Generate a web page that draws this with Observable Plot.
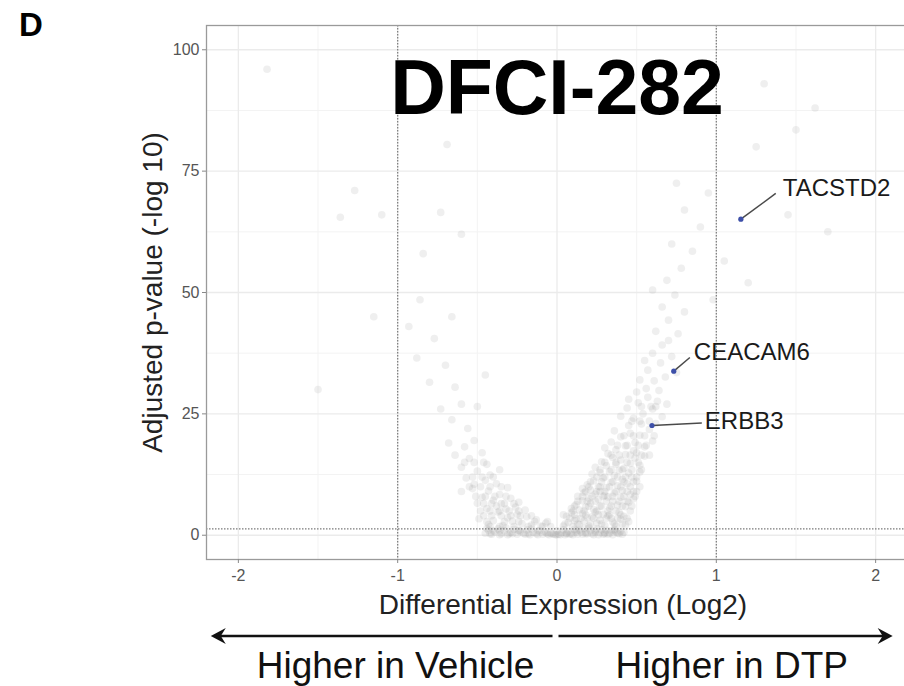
<!DOCTYPE html>
<html><head><meta charset="utf-8">
<script src="https://cdn.jsdelivr.net/npm/d3@7"></script>
<script src="https://cdn.jsdelivr.net/npm/@observablehq/plot@0.6"></script>
<style>
body{margin:0;background:#fff;font-family:"Liberation Sans",Arial,Helvetica,sans-serif;}
#fig{position:relative;width:904px;height:686px;overflow:hidden;background:#fff;}
#fig > svg{position:absolute;left:0;top:0;}
</style></head><body><div id="fig"></div>
<script>
// ---- text ----
const panelLetter = "D";
const chartTitle = "DFCI-282";
const xLabel = "Differential Expression (Log2)";
const yLabel = "Adjusted p-value (-log 10)";
const directionLabels = ["Higher in Vehicle", "Higher in DTP"];

// ---- axes ----
const xDomain = [-2.2, 2.2];
const yDomain = [-5, 105];
const xTicks = [-2, -1, 0, 1, 2];
const yTicks = [0, 25, 50, 75, 100];
const xMinor = [-1.5, -0.5, 0.5, 1.5];
const yMinor = [12.5, 37.5, 62.5, 87.5];

// ---- thresholds ----
const foldChangeCutoffs = [-1, 1];
const pValueCutoff = [1.30103]; // -log10(0.05)

// ---- all genes: [log2 fold change, -log10 adjusted p] ----
const genePoints = [
  // dense band near zero
  [-0.45,0.4],[-0.43,1.0],[-0.41,0.2],[-0.39,0.7],[-0.37,1.3],[-0.35,0.3],[-0.33,0.9],[-0.31,0.1],[-0.29,0.6],[-0.27,1.2],
  [-0.25,0.2],[-0.23,0.8],[-0.21,0.4],[-0.19,1.1],[-0.17,0.1],[-0.15,0.6],[-0.13,0.3],[-0.11,0.9],[-0.09,0.2],[-0.07,0.5],
  [-0.05,0.1],[-0.03,0.3],[-0.01,0.1],[0.01,0.2],[0.03,0.5],[0.05,0.1],[0.07,0.8],[0.09,0.3],[0.11,1.2],[0.13,0.2],
  [0.15,0.7],[0.17,1.4],[0.19,0.3],[0.21,0.9],[0.23,0.1],[0.25,1.3],[0.27,0.5],[0.29,0.2],[0.31,1.0],[0.33,0.4],
  [0.35,0.1],[0.37,0.7],[0.39,0.3],[0.41,0.2],
  [-0.44,1.4],[-0.40,0.9],[-0.36,0.1],[-0.32,1.5],[-0.28,0.3],[-0.24,1.0],[-0.20,0.2],[-0.16,1.3],[-0.12,0.1],[-0.08,0.8],
  [-0.04,0.4],[0.00,0.1],[0.04,1.1],[0.08,0.2],[0.12,0.6],[0.16,0.2],[0.20,1.5],[0.24,0.6],[0.28,1.1],[0.32,0.2],
  [0.36,1.2],[0.40,0.8],[0.02,0.1],[-0.02,0.2],[0.06,0.4],[0.10,0.1],[0.14,1.0],[0.18,0.6],[0.22,0.3],[0.26,0.1],
  [0.30,0.5],[0.34,0.9],[0.38,0.4],
  [-0.42,0.3],[-0.36,0.9],[-0.30,0.3],[-0.24,0.9],[-0.18,0.3],[-0.12,0.9],[-0.06,0.3],[0.00,0.9],[0.06,0.3],[0.12,0.9],
  [0.18,0.3],[0.24,0.9],[0.30,0.3],[0.36,0.9],[0.42,0.6],
  // right arm (higher in DTP)
  [0.04,1.9],[0.07,2.6],[0.10,1.8],[0.12,3.4],[0.14,2.2],[0.17,2.9],[0.20,1.9],[0.22,3.8],[0.25,2.5],[0.27,3.1],
  [0.30,2.0],[0.32,4.0],[0.35,2.7],[0.37,1.9],[0.40,3.3],[0.43,2.1],[0.06,3.9],[0.09,4.6],[0.11,3.0],[0.16,4.4],
  [0.19,3.6],[0.24,4.8],[0.29,4.3],[0.34,3.5],[0.39,4.7],[0.42,3.9],[0.45,2.8],
  [0.05,2.3],[0.13,2.3],[0.21,2.3],[0.28,2.3],[0.36,2.3],[0.41,2.3],
  [0.08,3.5],[0.15,3.5],[0.23,3.5],[0.31,3.5],[0.38,3.5],[0.44,3.5],
  [0.04,4.2],[0.11,4.2],[0.18,4.2],[0.26,4.2],[0.33,4.2],[0.40,4.2],
  [0.10,5.0],[0.17,5.0],[0.25,5.0],[0.32,5.0],[0.37,5.0],[0.46,5.0],
  [0.09,5.5],[0.12,6.3],[0.14,5.2],[0.16,7.1],[0.18,5.8],[0.21,6.6],[0.23,5.3],[0.26,7.4],[0.28,6.0],[0.30,8.2],
  [0.33,5.6],[0.35,7.0],[0.38,6.2],[0.40,7.8],[0.43,5.9],[0.45,6.8],[0.48,7.5],[0.13,8.0],[0.17,8.8],[0.20,7.6],
  [0.24,8.5],[0.27,9.0],[0.32,7.9],[0.36,8.7],[0.41,9.2],[0.46,8.4],[0.50,9.0],
  [0.11,6.0],[0.20,6.0],[0.27,6.0],[0.34,6.0],[0.41,6.0],[0.47,6.0],
  [0.13,7.0],[0.19,7.0],[0.24,7.0],[0.31,7.0],[0.39,7.0],[0.44,7.0],
  [0.16,8.0],[0.22,8.0],[0.29,8.0],[0.35,8.0],[0.42,8.0],[0.49,8.0],
  [0.18,9.0],[0.25,9.0],[0.30,9.0],[0.37,9.0],[0.44,9.0],[0.48,9.0],
  [0.16,9.6],[0.19,10.4],[0.21,9.3],[0.23,11.2],[0.26,10.0],[0.29,11.8],[0.31,9.8],[0.34,10.9],[0.36,12.3],[0.38,10.2],
  [0.41,11.5],[0.44,10.6],[0.47,12.0],[0.50,11.1],[0.22,12.6],[0.27,12.9],[0.33,13.1],[0.39,13.4],[0.45,12.8],[0.52,13.0],
  [0.20,10.0],[0.27,10.0],[0.33,10.0],[0.40,10.0],[0.46,10.0],[0.52,10.0],
  [0.21,11.0],[0.28,11.0],[0.35,11.0],[0.42,11.0],[0.48,11.0],
  [0.25,12.0],[0.30,12.0],[0.38,12.0],[0.43,12.0],[0.50,12.0],
  [0.24,14.0],[0.28,15.1],[0.31,14.3],[0.35,16.0],[0.37,14.6],[0.40,15.5],[0.43,16.6],[0.46,14.8],[0.49,15.9],[0.52,14.4],
  [0.55,16.3],[0.32,16.8],[0.42,13.8],[0.50,17.0],
  [0.27,13.5],[0.34,13.5],[0.41,13.5],[0.47,13.5],[0.53,13.5],
  [0.30,15.0],[0.37,15.0],[0.44,15.0],[0.51,15.0],
  [0.34,16.5],[0.39,16.5],[0.46,16.5],[0.53,16.5],[0.58,16.5],
  [0.30,18.0],[0.34,19.2],[0.37,17.6],[0.40,20.3],[0.43,18.4],[0.46,21.0],[0.49,19.1],[0.52,20.6],[0.55,18.2],[0.58,21.8],
  [0.36,21.5],[0.45,22.6],[0.53,22.9],[0.60,19.4],[0.48,17.4],[0.62,23.0],
  [0.38,18.5],[0.44,18.5],[0.51,18.5],[0.56,18.5],
  [0.42,20.5],[0.48,20.5],[0.55,20.5],[0.61,20.5],
  [0.47,23.5],[0.52,23.5],[0.58,23.5],
  [0.40,24.5],[0.44,26.2],[0.48,24.1],[0.51,27.3],[0.54,25.0],[0.57,28.4],[0.60,26.0],[0.63,27.6],[0.66,24.4],[0.50,29.5],
  [0.56,30.2],[0.64,29.8],[0.45,28.0],[0.69,27.0],
  [0.53,26.5],[0.59,26.5],[0.62,26.5],
  [0.52,32.0],[0.57,34.0],[0.61,31.8],[0.65,35.5],[0.68,32.6],[0.72,36.8],[0.60,37.5],[0.66,39.2],[0.55,36.0],[0.75,33.5],
  [0.70,40.1],
  [0.62,42.0],[0.70,44.3],[0.76,41.5],[0.66,47.0],[0.74,49.5],[0.80,46.0],[0.69,52.5],[0.78,55.0],[0.60,50.5],[0.85,58.5],
  [0.72,60.0],[0.90,63.5],[0.80,67.0],[0.95,70.5],[0.75,72.5],[1.05,56.5],[0.98,48.5],
  [1.25,80.0],[1.50,83.5],[1.62,88.0],[1.30,93.0],[1.45,66.0],[1.70,62.5],[1.20,52.0],
  // left arm (higher in vehicle)
  [-0.04,1.8],[-0.07,2.5],[-0.10,1.9],[-0.13,3.2],[-0.16,2.1],[-0.19,3.8],[-0.22,2.4],[-0.25,4.3],[-0.28,2.9],[-0.31,3.6],
  [-0.34,2.0],[-0.37,4.8],[-0.40,3.0],[-0.43,2.2],[-0.46,4.0],[-0.20,5.2],[-0.26,5.8],[-0.32,5.4],[-0.38,6.0],[-0.44,5.5],
  [-0.49,3.4],
  [-0.09,1.8],[-0.18,1.8],[-0.27,1.8],[-0.36,1.8],[-0.42,1.8],
  [-0.06,2.8],[-0.14,2.8],[-0.24,2.8],[-0.33,2.8],[-0.44,2.8],
  [-0.16,4.0],[-0.23,4.0],[-0.29,4.0],[-0.35,4.0],[-0.41,4.0],
  [-0.24,5.0],[-0.30,5.0],[-0.36,5.0],[-0.42,5.0],[-0.48,5.0],
  [-0.24,6.8],[-0.29,7.6],[-0.33,6.5],[-0.36,8.4],[-0.40,7.2],[-0.43,9.1],[-0.47,7.8],[-0.50,6.6],[-0.53,9.6],[-0.31,9.8],
  [-0.38,10.6],[-0.45,11.3],[-0.52,10.5],[-0.57,11.8],[-0.42,12.4],[-0.60,9.0],
  [-0.27,6.5],[-0.35,6.5],[-0.41,6.5],[-0.46,6.5],
  [-0.32,8.0],[-0.39,8.0],[-0.45,8.0],[-0.51,8.0],
  [-0.35,10.0],[-0.42,10.0],[-0.48,10.0],[-0.55,10.0],
  [-0.40,12.0],[-0.47,12.0],[-0.53,12.0],
  [-0.36,13.5],[-0.44,14.6],[-0.50,13.2],[-0.55,15.8],[-0.60,14.0],[-0.47,17.0],[-0.58,18.2],[-0.64,16.5],[-0.52,19.5],[-0.68,19.0],
  [-0.46,15.0],[-0.52,15.0],[-0.58,15.0],
  [-0.56,22.0],[-0.66,23.8],[-0.60,27.0],[-0.73,26.0],[-0.64,30.5],[-0.80,31.5],[-0.70,35.0],[-0.88,36.5],[-0.77,40.5],[-0.93,43.0],
  [-0.66,45.0],[-0.86,48.5],[-0.50,26.5],[-0.45,33.0],
  [-0.73,66.5],[-0.69,80.5],[-0.60,62.0],[-1.10,66.0],[-1.27,71.0],[-1.36,65.5],[-1.82,96.0],[-0.84,58.0],[-1.15,45.0],[-1.50,30.0]
];

// ---- highlighted genes ----
const highlightGenes = ["TACSTD2", "CEACAM6", "ERBB3"];
const highlightLog2FC = [1.154, 0.733, 0.596];
const highlightNegLog10P = [65.1, 33.8, 22.6];
// repelled label anchor (data units) and leader-line ends
const labelLog2FC = [1.417, 0.859, 0.928];
const labelNegLog10P = [71.4, 37.7, 23.5];
const leaderEndLog2FC = [1.373, 0.834, 0.909];
const leaderEndNegLog10P = [70.4, 36.6, 23.1];

const genes = genePoints.map(([x, y]) => ({x, y}));
const hl = highlightGenes.map((gene, i) => ({
  gene, x: highlightLog2FC[i], y: highlightNegLog10P[i],
  lx: labelLog2FC[i], ly: labelNegLog10P[i],
  ex: leaderEndLog2FC[i], ey: leaderEndNegLog10P[i]
}));

const font = "Liberation Sans, Arial, Helvetica, sans-serif";
const chart = Plot.plot({
  width: 904, height: 686,
  marginLeft: 206, marginRight: -3, marginTop: 25, marginBottom: 127,
  x: {domain: xDomain},
  y: {domain: yDomain},
  style: {fontFamily: font, background: "white"},
  marks: [
    Plot.gridX(xMinor, {stroke: "#f3f3f3", strokeOpacity: 1, strokeWidth: 1}),
    Plot.gridY(yMinor, {stroke: "#f3f3f3", strokeOpacity: 1, strokeWidth: 1}),
    Plot.gridX(xTicks, {stroke: "#ebebeb", strokeOpacity: 1, strokeWidth: 1.3}),
    Plot.gridY(yTicks, {stroke: "#ebebeb", strokeOpacity: 1, strokeWidth: 1.3}),
    Plot.dot(genes, {x: "x", y: "y", r: 3.8, fill: "#999", fillOpacity: 0.16, stroke: null}),
    Plot.ruleX(foldChangeCutoffs, {stroke: "#7a7a7a", strokeDasharray: "1.5,1.5", strokeWidth: 1.2}),
    Plot.ruleY(pValueCutoff, {stroke: "#7a7a7a", strokeDasharray: "1.5,1.5", strokeWidth: 1.2}),
    Plot.link(hl, {x1: "x", y1: "y", x2: "ex", y2: "ey", stroke: "#4a4a4a", strokeWidth: 1.5}),
    Plot.dot(hl, {x: "x", y: "y", r: 2.6, fill: "#3d4fa8", stroke: null}),
    Plot.text(hl, {x: "lx", y: "ly", text: "gene", textAnchor: "start", fontSize: 24, fill: "#1a1a1a"}),
    Plot.text([chartTitle], {frameAnchor: "top", dy: 34, lineAnchor: "top", fontSize: 77, fontWeight: "bold", fill: "#000"}),
    Plot.frame({stroke: "#9a9a9a", strokeWidth: 1.3}),
    Plot.axisX(xTicks, {tickSize: 4, tickPadding: 6, fontSize: 16, fill: "#555", stroke: "#888", label: null, tickFormat: d => String(d)}),
    Plot.axisY(yTicks, {tickSize: 4, tickPadding: 3, fontSize: 16, fill: "#555", stroke: "#888", label: null, tickFormat: d => String(d)}),
    Plot.text([xLabel], {frameAnchor: "bottom", dy: 54, dx: 6, lineAnchor: "bottom", fontSize: 28, fill: "#222"}),
    Plot.text([yLabel], {frameAnchor: "left", dx: -45, rotate: -90, textAnchor: "middle", lineAnchor: "bottom", fontSize: 28, fill: "#222"})
  ]
});
const fig = document.getElementById("fig");
fig.appendChild(chart);

// ---- annotation: panel letter and direction arrows ----
const xs = chart.scale("x");
const cx = xs.apply(0);
const leftTip = xs.apply(-2.17), rightTip = xs.apply(2.11);
const ay = 636;
const ov = d3.create("svg").attr("width", 904).attr("height", 686)
  .style("pointer-events", "none").style("font-family", font);
ov.append("text").attr("x", 19).attr("y", 36).attr("font-size", 33).attr("font-weight", "bold").attr("fill", "#000").text(panelLetter);
ov.append("line").attr("x1", cx - 4).attr("x2", leftTip + 8).attr("y1", ay).attr("y2", ay).attr("stroke", "#111").attr("stroke-width", 2.5);
ov.append("line").attr("x1", cx + 2).attr("x2", rightTip - 8).attr("y1", ay).attr("y2", ay).attr("stroke", "#111").attr("stroke-width", 2.5);
ov.append("path").attr("d", `M${leftTip},${ay} L${leftTip + 15},${ay - 8} L${leftTip + 10},${ay} L${leftTip + 15},${ay + 8} Z`).attr("fill", "#111");
ov.append("path").attr("d", `M${rightTip},${ay} L${rightTip - 15},${ay - 8} L${rightTip - 10},${ay} L${rightTip - 15},${ay + 8} Z`).attr("fill", "#111");
ov.append("text").attr("x", xs.apply(-1.01)).attr("y", 678).attr("text-anchor", "middle").attr("font-size", 37).attr("fill", "#111").text(directionLabels[0]);
ov.append("text").attr("x", xs.apply(1.1)).attr("y", 678).attr("text-anchor", "middle").attr("font-size", 37).attr("fill", "#111").text(directionLabels[1]);
fig.appendChild(ov.node());
</script></body></html>
